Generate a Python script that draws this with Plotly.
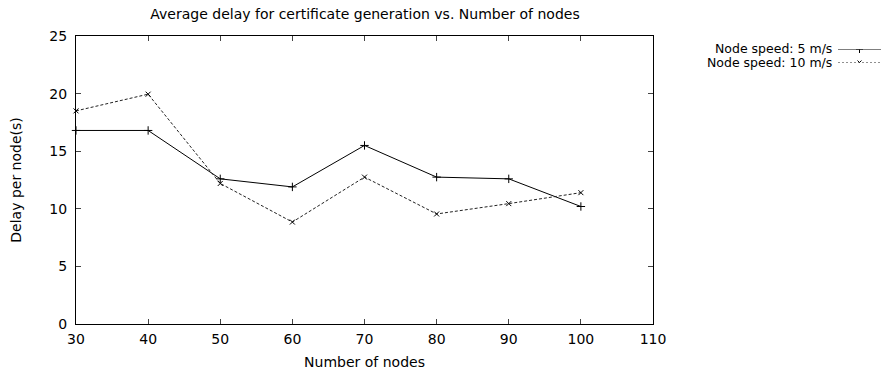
import plotly.graph_objects as go

nodes = [30, 40, 50, 60, 70, 80, 90, 100]
speed5 = [16.8, 16.8, 12.6, 11.9, 15.5, 12.75, 12.6, 10.2]
speed10 = [18.5, 19.95, 12.2, 8.85, 12.75, 9.55, 10.45, 11.4]
series_names = ["Node speed: 5 m/s", "Node speed: 10 m/s"]
x_ticks = [30, 40, 50, 60, 70, 80, 90, 100, 110]
y_ticks = [0, 5, 10, 15, 20, 25]

FONT = "DejaVu Sans, Liberation Sans, sans-serif"
fig = go.Figure()

fig.add_trace(go.Scatter(
    x=nodes, y=speed5, mode="lines+markers", name=series_names[0],
    line=dict(color="black", width=1),
    marker=dict(symbol="cross-thin", size=6, line=dict(color="black", width=1)),
    showlegend=False, cliponaxis=False))
fig.add_trace(go.Scatter(
    x=nodes, y=speed10, mode="lines+markers", name=series_names[1],
    line=dict(color="#222", width=1, dash="3px,2px"),
    marker=dict(symbol="x-thin", size=5, line=dict(color="black", width=1)),
    showlegend=False, cliponaxis=False))

# custom gnuplot-style legend (text left, sample right)
fig.add_trace(go.Scatter(x=[0, 1], y=[1, 1], mode="lines", xaxis="x2", yaxis="y2",
    line=dict(color="black", width=1), showlegend=False, hoverinfo="skip"))
fig.add_trace(go.Scatter(x=[0.5], y=[1], mode="markers", xaxis="x2", yaxis="y2",
    marker=dict(symbol="cross-thin", size=5, line=dict(color="black", width=1)),
    showlegend=False, hoverinfo="skip"))
fig.add_trace(go.Scatter(x=[0, 1], y=[0, 0], mode="lines", xaxis="x2", yaxis="y2",
    line=dict(color="#222", width=1, dash="2px,2px"), showlegend=False, hoverinfo="skip"))
fig.add_trace(go.Scatter(x=[0.5], y=[0], mode="markers", xaxis="x2", yaxis="y2",
    marker=dict(symbol="x-thin", size=4, line=dict(color="black", width=1)),
    showlegend=False, hoverinfo="skip"))

W, H = 882, 372
L, R, T, B = 76, 0, 36, 48
pw = W - L - R
ph = H - T - B
px = lambda v: (v - L) / pw
py = lambda v: 1 - (v - T) / ph

fig.update_layout(
    width=W, height=H,
    margin=dict(l=L, r=R, t=T, b=B),
    paper_bgcolor="white", plot_bgcolor="white",
    font=dict(family=FONT, size=14, color="black"),
    title=dict(text="Average delay for certificate generation vs. Number of nodes",
               xref="container", x=365 / W, xanchor="center",
               yref="container", y=1 - 14 / H, yanchor="middle",
               font=dict(size=14)),
    xaxis=dict(domain=[0, px(653)], range=[30, 110], tickvals=x_ticks,
               ticks="inside", ticklen=5, automargin=False,
               tickfont=dict(size=14), ticklabelstandoff=2,
               showline=True, linecolor="black", linewidth=1, mirror="ticks",
               showgrid=False, zeroline=False,
               title=dict(text="Number of nodes", standoff=11, font=dict(size=14))),
    yaxis=dict(range=[0, 25], tickvals=y_ticks, ticks="inside", ticklen=5,
               automargin=False, tickfont=dict(size=14), ticklabelstandoff=5,
               showline=True, linecolor="black", linewidth=1, mirror="ticks",
               showgrid=False, zeroline=False,
               title=dict(text="Delay per node(s)", standoff=24, font=dict(size=14))),
    xaxis2=dict(domain=[px(838), px(881)], range=[0, 1], visible=False, anchor="y2"),
    yaxis2=dict(domain=[py(62.5), py(49.5)], range=[0, 1], visible=False, anchor="x2"),
)

for name, yc in zip(series_names, [49, 62.5]):
    fig.add_annotation(text=name, xref="paper", yref="paper",
                       x=px(833), y=py(yc), xanchor="right", yanchor="middle",
                       borderpad=0, showarrow=False,
                       font=dict(size=12.5))

fig.write_html("out.html", config={"displayModeBar": False},
               post_script="document.body.style.margin='0';")
